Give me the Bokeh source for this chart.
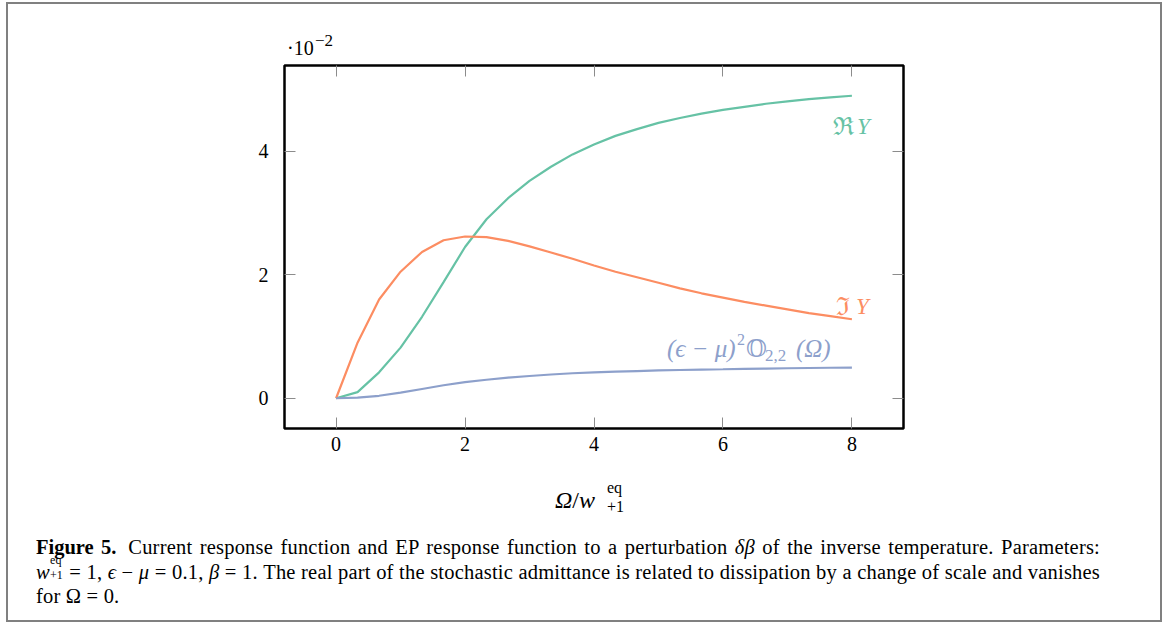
from bokeh.plotting import figure
from bokeh.models import Label, LinearAxis, FixedTicker, Div, Range1d
from bokeh.layouts import column
from bokeh.embed import file_html
from bokeh.resources import INLINE

# ---- data ----
omega = [0.0, 0.333, 0.667, 1.0, 1.333, 1.667, 2.0, 2.333, 2.667, 3.0, 3.333, 3.667,
         4.0, 4.333, 4.667, 5.0, 5.333, 5.667, 6.0, 6.333, 6.667, 7.0, 7.333, 7.667, 8.0]
re_y = [0.0, 0.10, 0.42, 0.82, 1.32, 1.88, 2.45, 2.90, 3.24, 3.52, 3.75, 3.95,
        4.11, 4.25, 4.36, 4.46, 4.54, 4.61, 4.67, 4.72, 4.77, 4.81, 4.845, 4.875, 4.90]
im_y = [0.0, 0.90, 1.60, 2.05, 2.37, 2.56, 2.62, 2.61, 2.55, 2.46, 2.36, 2.26,
        2.15, 2.05, 1.96, 1.87, 1.78, 1.70, 1.63, 1.56, 1.50, 1.44, 1.38, 1.33, 1.28]
ep_y = [0.0, 0.01, 0.04, 0.09, 0.15, 0.21, 0.26, 0.30, 0.335, 0.36, 0.385, 0.405,
        0.42, 0.43, 0.44, 0.45, 0.458, 0.465, 0.47, 0.476, 0.481, 0.486, 0.49, 0.494, 0.497]
x_ticks = [0, 2, 4, 6, 8]
y_ticks = [0, 2, 4]

GREEN = "#66c2a5"
ORANGE = "#fc8d62"
BLUE = "#8da0cb"
SERIF = "Liberation Serif, DejaVu Serif, serif"
TICKGRAY = "#8c8c8c"
CSS_SERIF = "font-family:'Liberation Serif','DejaVu Serif',serif;color:black;"

p = figure(frame_width=619, frame_height=363,
           min_border_left=276, min_border_right=257,
           min_border_top=5, min_border_bottom=32,
           x_range=Range1d(-0.8, 8.8), y_range=Range1d(-0.49, 5.39),
           output_backend="svg", toolbar_location=None)
p.background_fill_color = "white"
p.border_fill_color = "white"
p.outline_line_color = "black"
p.outline_line_width = 2.5
p.xgrid.visible = False
p.ygrid.visible = False

p.add_layout(LinearAxis(), "above")
p.add_layout(LinearAxis(), "right")

for ax in p.xaxis:
    ax.ticker = FixedTicker(ticks=x_ticks)
for ax in p.yaxis:
    ax.ticker = FixedTicker(ticks=y_ticks)

for ax in p.axis:
    ax.axis_line_color = None
    ax.major_tick_in = 11
    ax.major_tick_out = 0
    ax.major_tick_line_color = TICKGRAY
    ax.major_tick_line_width = 1
    ax.minor_tick_line_color = None
    ax.major_label_text_font = SERIF
    ax.major_label_text_font_size = "20px"
    ax.major_label_text_color = "black"

p.above[0].major_label_text_font_size = "0px"
p.above[0].major_label_standoff = 0
p.right[0].major_label_text_font_size = "0px"
p.right[0].major_label_standoff = 0
p.below[0].major_label_standoff = 8
p.left[0].major_label_standoff = 16

p.line(omega, re_y, line_color=GREEN, line_width=2.2)
p.line(omega, im_y, line_color=ORANGE, line_width=2.2)
p.line(omega, ep_y, line_color=BLUE, line_width=2.2)


def lab(x, y, dx, dy, text, color, size, italic=False):
    p.add_layout(Label(x=x, y=y, x_offset=dx, y_offset=dy, text=text,
                       text_font=SERIF, text_font_size=size, text_color=color,
                       text_font_style="italic" if italic else "normal",
                       text_baseline="alphabetic"))


# curve labels
xe = omega[-1]
lab(xe, re_y[-1], -19, -31, "\u211c", GREEN, "25px")
lab(xe, re_y[-1], 5, -31, "Y", GREEN, "23px", italic=True)
lab(xe, im_y[-1], -16, 13, "\u2111", ORANGE, "25px")
lab(xe, im_y[-1], 4, 13, "Y", ORANGE, "23px", italic=True)
lab(xe, ep_y[-1], -185, 19, "(\u03f5 \u2212 \u03bc)", BLUE, "25px", italic=True)
lab(xe, ep_y[-1], -115, 28, "2", BLUE, "16px")
lab(xe, ep_y[-1], -106, 19, "\U0001D546", BLUE, "24px")
lab(xe, ep_y[-1], -87, 12, "2,2", BLUE, "17px")
lab(xe, ep_y[-1], -56, 19, "(\u03a9)", BLUE, "25px", italic=True)

# scale factor above the y axis
top_html = (
    "<div style=\"position:relative;width:1152px;height:56px;" + CSS_SERIF + "\">"
    "<span style=\"position:absolute;left:279px;top:34px;font-size:20px;line-height:1;\">\u00b710</span>"
    "<span style=\"position:absolute;left:307px;top:28px;font-size:17px;line-height:1;\">\u22122</span>"
    "</div>"
)
topdiv = Div(text=top_html, width=1152, height=56, margin=0)

xlabel_html = (
    "<div style=\"position:relative;width:1152px;height:60px;" + CSS_SERIF + "\">"
    "<span style=\"position:absolute;left:547px;top:28px;font-size:24px;line-height:1;\">"
    "<i>\u03a9</i>/<i>w</i></span>"
    "<span style=\"position:absolute;left:599px;top:20px;font-size:16px;line-height:1;\">eq</span>"
    "<span style=\"position:absolute;left:599px;top:39px;font-size:16px;line-height:1;\">+1</span>"
    "</div>"
)
xlab = Div(text=xlabel_html, width=1152, height=60, margin=0)

JUST = "width:1064px;text-align:justify;text-align-last:justify;white-space:nowrap;"
SUBSUP = (
    "<span style=\"position:relative;display:inline-block;width:14px;\">&nbsp;"
    "<span style=\"position:absolute;left:0px;top:-6px;font-size:12px;line-height:1;\">eq</span>"
    "<span style=\"position:absolute;left:0px;top:9px;font-size:12px;line-height:1;\">+1</span>"
    "</span>"
)
caption_html = (
    "<div style=\"" + CSS_SERIF + "font-size:20.5px;letter-spacing:0.2px;"
    "line-height:24.5px;padding-left:28px;padding-top:15px;\">"
    "<div style=\"" + JUST + "\">"
    "<b style=\"margin-right:12px;letter-spacing:0;\">Figure 5.</b>Current response function and EP response function to a "
    "perturbation <i>\u03b4\u03b2</i> of the inverse temperature. Parameters:</div>"
    "<div style=\"" + JUST + "\">"
    "<i>w</i>" + SUBSUP + " = 1, "
    "<i>\u03f5</i> \u2212 <i>\u03bc</i> = 0.1, "
    "<i>\u03b2</i> = 1. The real part of the stochastic admittance is related to dissipation "
    "by a change of scale and vanishes</div>"
    "<div style=\"white-space:nowrap;\">for \u03a9 = 0.</div>"
    "</div>"
)
cap = Div(text=caption_html, width=1152, height=100, margin=0)

layout = column(topdiv, p, xlab, cap, spacing=0, margin=(2, 0, 0, 6),
                styles={"border": "2px solid #808080", "background-color": "white"})

open("out.html", "w").write(file_html(layout, INLINE))
